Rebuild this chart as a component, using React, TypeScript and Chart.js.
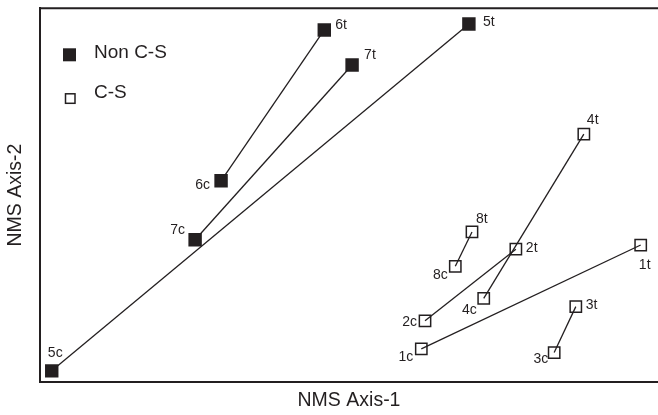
import React, { useEffect, useRef } from 'react';
import { Chart, registerables } from 'chart.js';

Chart.register(...registerables);

// ---- data (NMS ordination scores) ----
const nonCsLabels = ['5c', '5t', '6c', '6t', '7c', '7t'];
const nonCsX = [1.9, 69.4, 29.3, 46.0, 25.1, 50.5];
const nonCsY = [2.9, 95.8, 53.8, 94.2, 38.0, 84.8];

const csLabels = ['1c', '1t', '2c', '2t', '3c', '3t', '4c', '4t', '8c', '8t'];
const csX = [61.7, 97.2, 62.3, 77.0, 83.2, 86.7, 71.8, 88.0, 67.2, 69.9];
const csY = [8.8, 36.6, 16.3, 35.5, 7.8, 20.1, 22.3, 66.3, 30.9, 40.1];

const legendLabels = ['Non C-S', 'C-S'];
const xTitle = 'NMS Axis-1';
const yTitle = 'NMS Axis-2';

// ---- styles ----
const INK = '#231f20';
const FONT = "'Liberation Sans', Arial, Helvetica, sans-serif";

// label placement: [dx, dy, align]
const labelPlacement: Record<string, [number, number, CanvasTextAlign]> = {
  '5c': [3.5, -18, 'center'],
  '5t': [14, -2, 'left'],
  '6c': [-11, 4, 'right'],
  '6t': [11, -4.5, 'left'],
  '7c': [-10, -10, 'right'],
  '7t': [12, -9.5, 'left'],
  '1c': [-8, 8, 'right'],
  '1t': [4, 20, 'center'],
  '2c': [-8, 1, 'right'],
  '2t': [10, -1, 'left'],
  '3c': [-6, 6.5, 'right'],
  '3t': [10, -1.5, 'left'],
  '4c': [-7, 11.5, 'right'],
  '4t': [3, -13.5, 'left'],
  '8c': [-7.5, 8.5, 'right'],
  '8t': [4, -13, 'left'],
};

function buildPairs(labels: string[], xs: number[], ys: number[], filled: boolean) {
  const sets: any[] = [];
  for (let i = 0; i + 1 < labels.length; i += 2) {
    sets.push({
      label: filled ? legendLabels[0] : legendLabels[1],
      data: [
        { x: xs[i], y: ys[i] },
        { x: xs[i + 1], y: ys[i + 1] },
      ],
      pointLabels: [labels[i], labels[i + 1]],
      showLine: true,
      borderColor: INK,
      borderWidth: 1.3,
      pointStyle: 'rect',
      pointRadius: filled ? 9.5 : 8,
      pointBorderWidth: filled ? 0 : 1.5,
      pointBorderColor: INK,
      pointBackgroundColor: filled ? INK : 'rgba(255,255,255,0)',
      pointHoverRadius: filled ? 9.5 : 8,
    });
  }
  return sets;
}

const decorPlugin = {
  id: 'decor',
  afterDatasetsDraw(chart: any) {
    const { ctx, chartArea } = chart;
    ctx.save();
    // top frame line
    ctx.strokeStyle = INK;
    ctx.lineWidth = 2;
    ctx.beginPath();
    ctx.moveTo(chartArea.left, chartArea.top);
    ctx.lineTo(chartArea.right, chartArea.top);
    ctx.stroke();

    // point labels
    ctx.fillStyle = INK;
    ctx.font = `14px ${FONT}`;
    ctx.textBaseline = 'middle';
    chart.data.datasets.forEach((ds: any, di: number) => {
      const meta = chart.getDatasetMeta(di);
      meta.data.forEach((el: any, pi: number) => {
        const lab = ds.pointLabels[pi];
        const p = labelPlacement[lab] || [8, 0, 'left'];
        ctx.textAlign = p[2];
        ctx.fillText(lab, el.x + p[0], el.y + p[1]);
      });
    });

    // legend
    const lx = chartArea.left;
    const ty = chartArea.top;
    ctx.fillStyle = INK;
    ctx.fillRect(lx + 23, ty + 40, 13, 13);
    ctx.lineWidth = 1.5;
    ctx.strokeRect(lx + 25.5, ty + 85.5, 9.5, 9.5);
    ctx.font = `19px ${FONT}`;
    ctx.textAlign = 'left';
    ctx.textBaseline = 'alphabetic';
    ctx.fillText(legendLabels[0], lx + 54, ty + 50);
    ctx.fillText(legendLabels[1], lx + 54, ty + 90);
    ctx.restore();
  },
};

export default function App() {
  const ref = useRef<HTMLCanvasElement>(null);
  useEffect(() => {
    if (!ref.current) return;
    const chart = new Chart(ref.current, {
      type: 'scatter',
      data: {
        datasets: [
          ...buildPairs(nonCsLabels, nonCsX, nonCsY, true),
          ...buildPairs(csLabels, csX, csY, false),
        ],
      },
      options: {
        responsive: false,
        animation: false,
        layout: { autoPadding: false, padding: { top: 8.3, left: 0, right: 0, bottom: 0 } },
        plugins: {
          legend: { display: false },
          tooltip: { enabled: false },
        },
        scales: {
          x: {
            type: 'linear',
            min: 0,
            max: 100,
            grid: { display: false, drawTicks: false },
            ticks: { display: false },
            border: { display: true, color: INK, width: 2 },
            title: {
              display: true,
              text: xTitle,
              color: INK,
              font: { family: FONT, size: 19.5 },
              padding: { top: 7.6, bottom: 2.3 },
            },
          },
          y: {
            type: 'linear',
            min: 0,
            max: 100,
            grid: { display: false, drawTicks: false },
            ticks: { display: false },
            border: { display: true, color: INK, width: 2 },
            title: {
              display: true,
              text: yTitle,
              color: INK,
              font: { family: FONT, size: 19.5 },
              padding: { top: 4.3, bottom: 12.3 },
            },
          },
        },
      } as any,
      plugins: [decorPlugin],
    });
    return () => chart.destroy();
  }, []);
  return (
    <div style={{ position: 'fixed', left: 0, top: 0, width: 658, height: 415, background: '#fff' }}>
      <canvas ref={ref} width={658} height={415} />
    </div>
  );
}
